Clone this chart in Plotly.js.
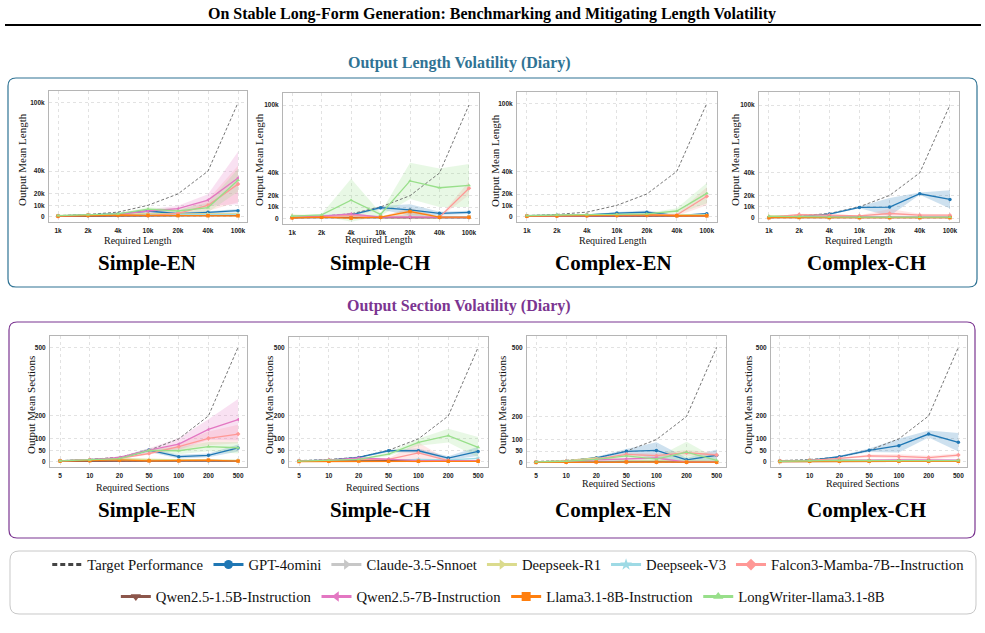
<!DOCTYPE html>
<html>
<head>
<meta charset="utf-8">
<script src="https://cdn.plot.ly/plotly-3.0.1.min.js"></script>
<style>
  html, body { margin: 0; padding: 0; background: #ffffff; }
  #chart { width: 985px; height: 633px; }
</style>
</head>
<body>
<div id="chart"></div>
<script>
const W = 985, H = 633;

// ---- categories and targets ----
const lengthCats = ['1k', '2k', '4k', '10k', '20k', '40k', '100k'];
const sectionCats = ['5', '10', '20', '50', '100', '200', '500'];
const targetLength = [1000, 2000, 4000, 10000, 20000, 40000, 100000];
const targetSections = [5, 10, 20, 50, 100, 200, 500];

const lengthTickVals = [0, 10000, 20000, 40000, 100000];
const lengthTickText = ['0', '10k', '20k', '40k', '100k'];
const sectionTickVals = [0, 50, 100, 200, 500];
const sectionTickText = ['0', '50', '100', '200', '500'];

// ---- models ----
const models = ['GPT-4omini', 'Claude-3.5-Snnoet', 'Deepseek-R1', 'Deepseek-V3',
  'Falcon3-Mamba-7B--Instruction', 'Qwen2.5-1.5B-Instruction', 'Qwen2.5-7B-Instruction',
  'Llama3.1-8B-Instruction', 'LongWriter-llama3.1-8B'];
const modelColors = ['#1f77b4', '#c7c7c7', '#dbdb8d', '#9edae5', '#ff9896',
  '#8c564b', '#e377c2', '#ff7f0e', '#98df8a'];
const modelSymbols = ['circle', 'triangle-right', 'triangle-right', 'star', 'diamond',
  'triangle-down', 'triangle-left', 'square', 'triangle-up'];

// ---- output mean length, one row per model (order as in models) ----
const lenSimpleEN = [
  [800, 1500, 2500, 5000, 2600, 3800, 5300],
  [800, 1400, 1800, 2000, 2100, 2200, 2300],
  [900, 1600, 2300, 2600, 2500, 2400, 2500],
  [700, 1200, 1600, 1800, 1800, 1700, 1800],
  [300, 1200, 1500, 1000, 3000, 10000, 28600],
  [300, 500, 600, 700, 800, 900, 1000],
  [500, 1500, 2000, 5000, 7000, 14600, 34000],
  [500, 1200, 1500, 1200, 1000, 900, 800],
  [1000, 1800, 2500, 6700, 5000, 8000, 32000]
];
const lenSimpleENsd = [
  [200, 300, 500, 1500, 1000, 1000, 1500],
  [200, 300, 300, 400, 400, 400, 400],
  [200, 300, 300, 400, 400, 400, 400],
  [200, 200, 300, 300, 300, 300, 300],
  [200, 500, 800, 800, 2000, 5000, 16000],
  [100, 200, 200, 200, 200, 200, 200],
  [200, 400, 600, 1500, 2500, 5000, 23000],
  [200, 300, 300, 300, 300, 300, 300],
  [300, 500, 800, 1500, 1500, 4000, 10000]
];

const lenSimpleCH = [
  [1000, 1500, 3000, 9400, 7400, 4400, 5300],
  [1200, 1800, 2000, 1500, 1500, 1400, 1300],
  [2500, 2500, 2000, 1500, 1200, 1000, 1000],
  [1500, 2500, 2500, 1500, 2000, 1500, 1500],
  [500, 1500, 2500, 1000, 1500, 1000, 26500],
  [500, 800, 600, 500, 600, 500, 500],
  [800, 2000, 4000, 1000, 1000, 800, 800],
  [500, 1000, 200, 1000, 6000, 1000, 1000],
  [2000, 3000, 16000, 3500, 33000, 27000, 29000]
];
const lenSimpleCHsd = [
  [300, 400, 800, 1500, 5000, 1500, 1500],
  [300, 300, 300, 300, 300, 300, 300],
  [300, 300, 300, 300, 300, 300, 300],
  [300, 300, 300, 300, 500, 300, 300],
  [200, 500, 800, 500, 1500, 500, 6000],
  [200, 200, 200, 200, 200, 200, 200],
  [200, 500, 1000, 300, 300, 300, 300],
  [200, 300, 200, 500, 3000, 500, 500],
  [500, 800, 19000, 1500, 16000, 17000, 19000]
];

const lenComplexEN = [
  [800, 1200, 1500, 3200, 4000, 1000, 2600],
  [600, 1000, 1200, 1500, 1500, 1200, 1200],
  [1000, 1500, 1500, 1500, 1500, 1500, 1500],
  [800, 1000, 1200, 1200, 1200, 1000, 1000],
  [300, 600, 800, 1000, 1200, 1500, 18000],
  [300, 400, 500, 500, 500, 500, 500],
  [500, 800, 1000, 1000, 1200, 1000, 1000],
  [400, 800, 1000, 1200, 1500, 800, 800],
  [900, 1500, 1800, 2000, 2500, 5000, 20600]
];
const lenComplexENsd = [
  [200, 300, 500, 1000, 1500, 500, 800],
  [200, 200, 300, 300, 300, 300, 300],
  [200, 300, 300, 300, 300, 300, 300],
  [200, 200, 200, 200, 200, 200, 200],
  [100, 200, 300, 300, 500, 1000, 8000],
  [100, 100, 100, 100, 100, 100, 100],
  [200, 200, 300, 300, 300, 300, 300],
  [200, 200, 300, 300, 300, 300, 300],
  [200, 400, 500, 500, 800, 2500, 9000]
];

const lenComplexCH = [
  [500, 1500, 3500, 9400, 9700, 21500, 16500],
  [1000, 1200, 1500, 1300, 1200, 1200, 1200],
  [2000, 2000, 1500, 1200, 1000, 1000, 1000],
  [1200, 1500, 1500, 1200, 1200, 1000, 1000],
  [800, 3000, 2500, 2000, 4000, 2500, 2500],
  [300, 500, 500, 500, 400, 400, 400],
  [500, 1000, 1500, 800, 800, 800, 800],
  [300, 500, 400, 300, 300, 300, 300],
  [1500, 1500, 1000, 800, 800, 800, 800]
];
const lenComplexCHsd = [
  [200, 400, 600, 800, 8000, 1000, 8000],
  [200, 200, 200, 200, 200, 200, 200],
  [300, 300, 300, 300, 300, 300, 300],
  [200, 200, 200, 200, 200, 200, 200],
  [200, 800, 600, 500, 4000, 1200, 800],
  [100, 100, 100, 100, 100, 100, 100],
  [200, 300, 300, 200, 200, 200, 200],
  [100, 100, 100, 100, 100, 100, 100],
  [300, 300, 300, 200, 200, 200, 200]
];

// ---- output mean sections, one row per model ----
const secSimpleEN = [
  [4, 8, 15, 51, 22, 28, 60],
  [4, 7, 10, 8, 6, 5, 5],
  [4, 8, 12, 10, 8, 7, 6],
  [3, 5, 6, 4, 4, 3, 3],
  [4, 9, 15, 36, 66, 102, 121],
  [2, 3, 4, 3, 3, 3, 3],
  [3, 8, 19, 51, 77, 141, 184],
  [3, 5, 8, 4, 4, 7, 3],
  [4, 8, 14, 50, 48, 66, 61]
];
const secSimpleENsd = [
  [1, 2, 3, 8, 8, 8, 15],
  [1, 1, 2, 2, 2, 2, 2],
  [1, 1, 2, 2, 2, 2, 2],
  [1, 1, 1, 1, 1, 1, 1],
  [1, 2, 3, 6, 15, 30, 40],
  [1, 1, 1, 1, 1, 1, 1],
  [1, 2, 3, 8, 25, 45, 90],
  [1, 1, 2, 1, 1, 2, 1],
  [1, 2, 3, 8, 15, 20, 25]
];

const secSimpleCH = [
  [4, 7, 19, 48, 48, 16, 45],
  [4, 6, 8, 6, 5, 5, 5],
  [3, 5, 6, 5, 4, 4, 4],
  [4, 6, 8, 6, 10, 8, 15],
  [3, 7, 10, 10, 39, 5, 5],
  [2, 4, 6, 5, 4, 3, 3],
  [3, 7, 17, 12, 5, 5, 5],
  [1, 2, 3, 2, 2, 2, 2],
  [3, 7, 10, 33, 85, 114, 63]
];
const secSimpleCHsd = [
  [1, 2, 3, 5, 10, 8, 20],
  [1, 1, 1, 1, 1, 1, 1],
  [1, 1, 1, 1, 1, 1, 1],
  [1, 1, 2, 2, 3, 3, 5],
  [1, 2, 3, 5, 45, 3, 3],
  [1, 1, 1, 1, 1, 1, 1],
  [1, 2, 3, 3, 2, 2, 2],
  [1, 1, 1, 1, 1, 1, 1],
  [1, 2, 3, 8, 15, 30, 45]
];

const secComplexEN = [
  [3, 6, 21, 49, 53, 12, 32],
  [3, 5, 8, 7, 6, 5, 5],
  [3, 8, 20, 10, 8, 6, 5],
  [2, 4, 6, 5, 5, 4, 4],
  [3, 6, 15, 36, 30, 43, 33],
  [1, 2, 3, 3, 3, 2, 2],
  [2, 5, 12, 17, 20, 2, 2],
  [1, 2, 3, 3, 2, 2, 2],
  [3, 6, 14, 29, 15, 45, 10]
];
const secComplexENsd = [
  [1, 2, 4, 10, 35, 8, 25],
  [1, 1, 1, 1, 1, 1, 1],
  [1, 2, 3, 2, 2, 2, 2],
  [1, 1, 1, 1, 1, 1, 1],
  [1, 2, 3, 8, 10, 12, 10],
  [1, 1, 1, 1, 1, 1, 1],
  [1, 2, 3, 4, 5, 1, 1],
  [1, 1, 1, 1, 1, 1, 1],
  [1, 2, 3, 8, 8, 45, 8]
];

const secComplexCH = [
  [3, 6, 22, 50, 70, 121, 85],
  [3, 5, 6, 5, 5, 5, 5],
  [3, 6, 8, 6, 5, 5, 5],
  [4, 6, 8, 6, 6, 6, 6],
  [3, 6, 15, 26, 23, 18, 29],
  [1, 2, 3, 2, 2, 2, 2],
  [2, 4, 8, 7, 8, 7, 7],
  [1, 2, 2, 2, 2, 2, 2],
  [2, 5, 6, 5, 5, 5, 5]
];
const secComplexCHsd = [
  [1, 2, 4, 8, 30, 15, 40],
  [1, 1, 1, 1, 1, 1, 1],
  [1, 1, 2, 1, 1, 1, 1],
  [1, 1, 2, 1, 1, 1, 1],
  [1, 2, 3, 6, 10, 8, 8],
  [1, 1, 1, 1, 1, 1, 1],
  [1, 1, 2, 2, 2, 2, 2],
  [1, 1, 1, 1, 1, 1, 1],
  [1, 1, 1, 1, 1, 1, 1]
];

// ---- helpers: pixel -> paper ----
const px = v => v / W;
const py = v => 1 - v / H;

function hexToRgba(hex, a) {
  const n = parseInt(hex.slice(1), 16);
  return `rgba(${(n >> 16) & 255},${(n >> 8) & 255},${n & 255},${a})`;
}

function roundedRect(x0, y0, x1, y1, r) {
  const X = v => px(v).toFixed(5), Y = v => py(v).toFixed(5);
  return `M${X(x0 + r)},${Y(y0)} L${X(x1 - r)},${Y(y0)} Q${X(x1)},${Y(y0)} ${X(x1)},${Y(y0 + r)} ` +
    `L${X(x1)},${Y(y1 - r)} Q${X(x1)},${Y(y1)} ${X(x1 - r)},${Y(y1)} ` +
    `L${X(x0 + r)},${Y(y1)} Q${X(x0)},${Y(y1)} ${X(x0)},${Y(y1 - r)} ` +
    `L${X(x0)},${Y(y0 + r)} Q${X(x0)},${Y(y0)} ${X(x0 + r)},${Y(y0)} Z`;
}

// ---- panel definitions (pixel frame of each plot area) ----
const panels = [
  { box: [49, 247, 91, 222], xr: [-0.3, 6.3], yr: [-4650, 110300], cats: lengthCats, target: targetLength, mean: lenSimpleEN, sd: lenSimpleENsd, kind: 'len' },
  { box: [283, 479, 93, 224], xr: [-0.31, 6.34], yr: [-5000, 110600], cats: lengthCats, target: targetLength, mean: lenSimpleCH, sd: lenSimpleCHsd, kind: 'len' },
  { box: [517, 717, 92, 222], xr: [-0.33, 6.34], yr: [-4700, 110000], cats: lengthCats, target: targetLength, mean: lenComplexEN, sd: lenComplexENsd, kind: 'len' },
  { box: [759, 959, 92, 222], xr: [-0.33, 6.3], yr: [-3500, 111500], cats: lengthCats, target: targetLength, mean: lenComplexCH, sd: lenComplexCHsd, kind: 'len' },
  { box: [50, 247, 336, 467], xr: [-0.34, 6.3], yr: [-23, 549], cats: sectionCats, target: targetSections, mean: secSimpleEN, sd: secSimpleENsd, kind: 'sec' },
  { box: [289, 488, 337, 467], xr: [-0.335, 6.33], yr: [-23, 545], cats: sectionCats, target: targetSections, mean: secSimpleCH, sd: secSimpleCHsd, kind: 'sec' },
  { box: [527, 726, 336, 467], xr: [-0.3, 6.31], yr: [-19, 549], cats: sectionCats, target: targetSections, mean: secComplexEN, sd: secComplexENsd, kind: 'sec' },
  { box: [771, 967, 336, 467], xr: [-0.3, 6.29], yr: [-23, 549], cats: sectionCats, target: targetSections, mean: secComplexCH, sd: secComplexCHsd, kind: 'sec' }
];

const tickFont = { family: 'Liberation Sans, Arial, sans-serif', size: 6.5, color: '#222', weight: 'bold' };
const serif = 'Liberation Serif, Times New Roman, serif';

const traces = [];
const layout = {
  width: W, height: H,
  margin: { l: 0, r: 0, t: 0, b: 0 },
  paper_bgcolor: '#ffffff', plot_bgcolor: '#ffffff',
  showlegend: true,
  shapes: [], annotations: []
};

panels.forEach((p, i) => {
  const n = i + 1;
  const xa = 'x' + (n === 1 ? '' : n), ya = 'y' + (n === 1 ? '' : n);
  const xKey = 'xaxis' + (n === 1 ? '' : n), yKey = 'yaxis' + (n === 1 ? '' : n);
  const [l, r, t, b] = p.box;
  const common = {
    showgrid: true, gridcolor: '#e2e2e2', griddash: 'dot', gridwidth: 1,
    showline: true, linecolor: '#b5b5b5', linewidth: 1, mirror: true,
    zeroline: false, ticks: '', tickfont: tickFont, fixedrange: true
  };
  layout[xKey] = Object.assign({}, common, {
    domain: [px(l), px(r)], anchor: ya, type: 'category',
    categoryorder: 'array', categoryarray: p.cats, range: p.xr, ticklabelstandoff: 2
  });
  layout[yKey] = Object.assign({}, common, {
    domain: [py(b), py(t)], anchor: xa, range: p.yr,
    tickvals: p.kind === 'len' ? lengthTickVals : sectionTickVals,
    ticktext: p.kind === 'len' ? lengthTickText : sectionTickText,
    ticklabelstandoff: 2
  });

  // std bands
  p.mean.forEach((m, k) => {
    const hi = m.map((v, j) => v + p.sd[k][j]);
    const lo = m.map((v, j) => v - p.sd[k][j]);
    traces.push({
      type: 'scatter', mode: 'lines', xaxis: xa, yaxis: ya,
      x: p.cats.concat(p.cats.slice().reverse()),
      y: hi.concat(lo.slice().reverse()),
      fill: 'toself', fillcolor: hexToRgba(modelColors[k], 0.22),
      line: { width: 0, color: 'rgba(0,0,0,0)' },
      showlegend: false, hoverinfo: 'skip'
    });
  });

  // target curve
  traces.push({
    type: 'scatter', mode: 'lines', xaxis: xa, yaxis: ya,
    x: p.cats, y: p.target, name: 'Target Performance',
    line: { color: '#666666', width: 0.9, dash: '3px,2px' }, showlegend: false
  });

  // model curves
  p.mean.forEach((m, k) => {
    traces.push({
      type: 'scatter', mode: 'lines+markers', xaxis: xa, yaxis: ya,
      x: p.cats, y: m, name: models[k],
      line: { color: modelColors[k], width: 1.3 },
      marker: { color: modelColors[k], size: 3.5, symbol: modelSymbols[k] },
      showlegend: false
    });
  });
});

// legend entries (two centred rows)
traces.push({
  type: 'scatter', mode: 'lines', x: [null], y: [null], name: 'Target Performance',
  line: { color: '#444444', width: 3, dash: '5px,3px' }, legend: 'legend'
});
models.forEach((name, k) => {
  traces.push({
    type: 'scatter', mode: 'lines+markers', x: [null], y: [null], name: name,
    line: { color: modelColors[k], width: 3 },
    marker: { color: modelColors[k], size: 9, symbol: modelSymbols[k] },
    legend: k < 5 ? 'legend' : 'legend2'
  });
});

const legendFont = { family: serif, size: 14.7, color: '#111' };
layout.legend = {
  orientation: 'h', x: 0.516, xanchor: 'center', y: py(565), yanchor: 'middle',
  font: legendFont, bgcolor: 'rgba(0,0,0,0)', borderwidth: 0, itemwidth: 30,
  traceorder: 'normal'
};
layout.legend2 = {
  orientation: 'h', x: 0.5105, xanchor: 'center', y: py(597), yanchor: 'middle',
  font: legendFont, bgcolor: 'rgba(0,0,0,0)', borderwidth: 0, itemwidth: 30,
  traceorder: 'normal'
};

// frames and rule
const teal = '#2f7394';
const purple = '#7b3591';
layout.shapes.push(
  { type: 'line', xref: 'paper', yref: 'paper', x0: px(5), x1: px(981), y0: py(25), y1: py(25), line: { color: '#000', width: 2 } },
  { type: 'path', xref: 'paper', yref: 'paper', path: roundedRect(8, 78, 977, 287, 8), line: { color: teal, width: 1.2 } },
  { type: 'path', xref: 'paper', yref: 'paper', path: roundedRect(9, 322, 975, 538, 8), line: { color: purple, width: 1.2 } },
  { type: 'path', xref: 'paper', yref: 'paper', path: roundedRect(10, 551, 976, 614, 9), line: { color: '#c8c8c8', width: 1 } }
);

function note(text, x, y, size, opts) {
  layout.annotations.push(Object.assign({
    text: text, xref: 'paper', yref: 'paper', x: px(x), y: py(y),
    xanchor: 'center', yanchor: 'middle', showarrow: false,
    font: { family: serif, size: size, color: '#111' }
  }, opts || {}));
}

note('<b>On Stable Long-Form Generation: Benchmarking and Mitigating Length Volatility</b>', 492, 14, 16, { font: { family: serif, size: 16, color: '#000' } });
note('<b>Output Length Volatility (Diary)</b>', 459, 63, 16, { font: { family: serif, size: 16, color: teal } });
note('<b>Output Section Volatility (Diary)</b>', 459, 306, 16, { font: { family: serif, size: 16, color: purple } });

const panelNames = ['Simple-EN', 'Simple-CH', 'Complex-EN', 'Complex-CH'];
const nameX = [147, 380, 613, 866];
panelNames.forEach((s, i) => {
  note('<b>' + s + '</b>', nameX[i], 263, 21, { font: { family: serif, size: 21, color: '#000' } });
  note('<b>' + s + '</b>', nameX[i], 510, 21, { font: { family: serif, size: 21, color: '#000' } });
});

const xTitleRow1 = [[137, 241], [378, 240], [612, 241], [858, 241]];
const xTitleRow2 = [[132, 487], [382, 487], [618, 483], [862, 483]];
xTitleRow1.forEach(([x, y]) => note('Required Length', x, y, 10));
xTitleRow2.forEach(([x, y]) => note('Required Sections', x, y, 10));

const yTitleRow1 = [22, 259, 495, 735];
const yTitleRow2 = [31, 269, 502, 748];
yTitleRow1.forEach(x => note('Output Mean Length', x, 160, 11, { textangle: -90 }));
yTitleRow2.forEach(x => note('Output Mean Sections', x, 405, 11, { textangle: -90 }));

Plotly.newPlot('chart', traces, layout, { staticPlot: true, displayModeBar: false });
</script>
</body>
</html>
